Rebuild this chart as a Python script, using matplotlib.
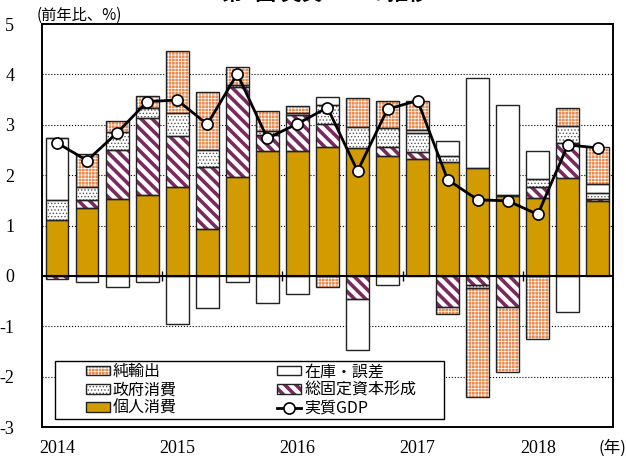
import matplotlib
matplotlib.use('Agg')
import matplotlib.pyplot as plt
from matplotlib.patches import Rectangle
from matplotlib.legend_handler import HandlerBase
import numpy as np

# 2014Q1 - 2018Q3, 前年比寄与度 (%)
quarters = ['2014Q1', '2014Q2', '2014Q3', '2014Q4',
            '2015Q1', '2015Q2', '2015Q3', '2015Q4',
            '2016Q1', '2016Q2', '2016Q3', '2016Q4',
            '2017Q1', '2017Q2', '2017Q3', '2017Q4',
            '2018Q1', '2018Q2', '2018Q3']
private_consumption = [1.10, 1.34, 1.53, 1.60, 1.76, 0.94, 1.97, 2.48, 2.47, 2.55,
                       2.53, 2.38, 2.33, 2.26, 2.15, 1.58, 1.55, 1.95, 1.48]
fixed_capital = [-0.07, 0.16, 0.96, 1.53, 1.02, 1.23, 1.78, 0.31, 0.72, 0.46,
                 -0.45, 0.18, 0.13, -0.61, -0.18, -0.62, 0.22, 0.68, 0.05]
gov_consumption = [0.41, 0.27, 0.37, 0.21, 0.46, 0.33, 0.03, 0.09, 0.04, 0.38,
                   0.43, 0.37, 0.37, 0.11, -0.07, 0.02, 0.16, 0.35, 0.12]
inventory = [1.23, -0.12, -0.23, -0.13, -0.96, -0.64, -0.13, -0.54, -0.36, 0.17,
             -1.03, -0.19, 0.07, 0.30, 1.77, 1.80, 0.55, -0.72, 0.18]
net_exports = [0.00, 0.65, 0.21, 0.23, 1.22, 1.15, 0.37, 0.39, 0.15, -0.23,
               0.58, 0.55, 0.58, -0.15, -2.15, -1.29, -1.26, 0.35, 0.72]
real_gdp = [2.64, 2.29, 2.84, 3.46, 3.49, 3.01, 4.01, 2.73, 3.02, 3.34,
            2.08, 3.31, 3.48, 1.91, 1.51, 1.49, 1.22, 2.60, 2.54]
year_labels = ['2014', '2015', '2016', '2017', '2018']

jp = ['Noto Sans CJK JP', 'DejaVu Sans']
plt.rcParams['font.family'] = ['Liberation Serif', 'Noto Sans CJK JP']

fig = plt.figure(figsize=(6.26, 4.59), dpi=100)
ax = fig.add_axes([0.0671, 0.0697, 0.912, 0.878])

x = np.arange(len(quarters))
w = 0.76

# (値, 面の色, ハッチ, ハッチの色, ハッチ線幅, 凡例)
series = [
    (private_consumption, '#D29B00', None, '#D29B00', 1.0, '個人消費'),
    (fixed_capital, 'white', '\\\\\\', '#7B2A5E', 2.6, '総固定資本形成'),
    (gov_consumption, 'white', '.....', '#555555', 0.6, '政府消費'),
    (inventory, 'white', None, 'white', 1.0, '在庫・誤差'),
    (net_exports, '#EB8A4D', '+++++', 'white', 0.5, '純輸出'),
]


def set_hlw(patches, lw):
    for p in patches:
        if hasattr(p, 'set_hatch_linewidth'):
            p.set_hatch_linewidth(lw)


class BarHandler(HandlerBase):
    def __init__(self, fc, hatch, hc, hlw):
        super().__init__()
        self.fc, self.hatch, self.hc, self.hlw = fc, hatch, hc, hlw

    def create_artists(self, legend, orig_handle, xdescent, ydescent,
                       width, height, fontsize, trans):
        plt.rcParams['hatch.linewidth'] = self.hlw
        r1 = Rectangle((-xdescent, -ydescent), width, height,
                       facecolor=self.fc, edgecolor=self.hc, linewidth=0,
                       hatch=self.hatch, transform=trans)
        set_hlw([r1], self.hlw)
        r2 = Rectangle((-xdescent, -ydescent), width, height, fill=False,
                       edgecolor='#222222', linewidth=1.0, transform=trans)
        return [r1, r2]


pos = np.zeros(len(x))
neg = np.zeros(len(x))
handles = {}
hmap = {}
for vals, fc, hatch, hc, hlw, name in series:
    v = np.array(vals)
    bottom = np.where(v >= 0, pos, neg)
    plt.rcParams['hatch.linewidth'] = hlw
    b = ax.bar(x, v, w, bottom=bottom, color=fc, edgecolor=hc, linewidth=0,
               hatch=hatch, zorder=2)
    set_hlw(b.patches, hlw)
    ax.bar(x, v, w, bottom=bottom, fill=False, edgecolor='#222222',
           linewidth=1.0, zorder=3)
    pos = np.where(v >= 0, pos + v, pos)
    neg = np.where(v < 0, neg + v, neg)
    handles[name] = b
    hmap[b] = BarHandler(fc, hatch, hc, hlw)

ax.axhline(0, color='black', linewidth=1.5, zorder=4)
# 年の区切り
ax.vlines(np.arange(4, len(x), 4) - 0.5, -0.1, 0.1, color='black',
          linewidth=1.0, zorder=4)

gdp_line, = ax.plot(x, real_gdp, color='black', linewidth=2, marker='o',
                    markersize=8, markerfacecolor='white',
                    markeredgecolor='black', markeredgewidth=1.2, zorder=5)

ax.set_xlim(-0.5, 18.5)
ax.set_ylim(-3, 5)
ax.set_yticks(range(-3, 6))
ax.set_yticklabels([str(i) for i in range(-3, 6)], fontsize=13)
ax.set_xticks(x[::4])
ax.set_xticklabels(year_labels, fontsize=13)
ax.tick_params(axis='x', length=0, pad=9)
ax.tick_params(axis='y', length=0, pad=20)
for yy in range(-2, 5):
    if yy != 0:
        ax.axhline(yy, color='black', linestyle=':', linewidth=0.8, zorder=1)
for s in ax.spines.values():
    s.set_linewidth(1.4)

# 凡例の枠
ax.add_patch(Rectangle((0.0228, 0.0199), 0.681, 0.144, transform=ax.transAxes,
                       facecolor='white', edgecolor='black', linewidth=1.0,
                       zorder=6))
order = ['純輸出', '政府消費', '個人消費', '在庫・誤差', '総固定資本形成']
hs = [handles[n] for n in order] + [gdp_line]
labels = order + ['実質GDP']
leg = ax.legend(hs, labels, ncol=2, loc='center left',
                bbox_to_anchor=(0.0736, 0.0199, 0.585, 0.144), mode='expand',
                borderaxespad=0, prop={'family': jp, 'size': 11.5},
                frameon=False, handlelength=1.5, handleheight=0.55,
                handletextpad=0.2, labelspacing=0.08, borderpad=0.1,
                columnspacing=1.0, handler_map=hmap)
leg.set_zorder(7)

fig.text(37 / 626, 1 - 15 / 459, '(前年比、%)', ha='left', va='center',
         fontsize=11, family=jp)
fig.text(598 / 626, 1 - 448 / 459, '(年)', ha='left', va='center',
         fontsize=12, family=jp)
fig.text(0.52, 1 - 4 / 459, '第1図 実質GDPの推移', ha='center', va='bottom',
         fontsize=15, weight='bold', family=jp)

fig.savefig('out.png', dpi=100)
